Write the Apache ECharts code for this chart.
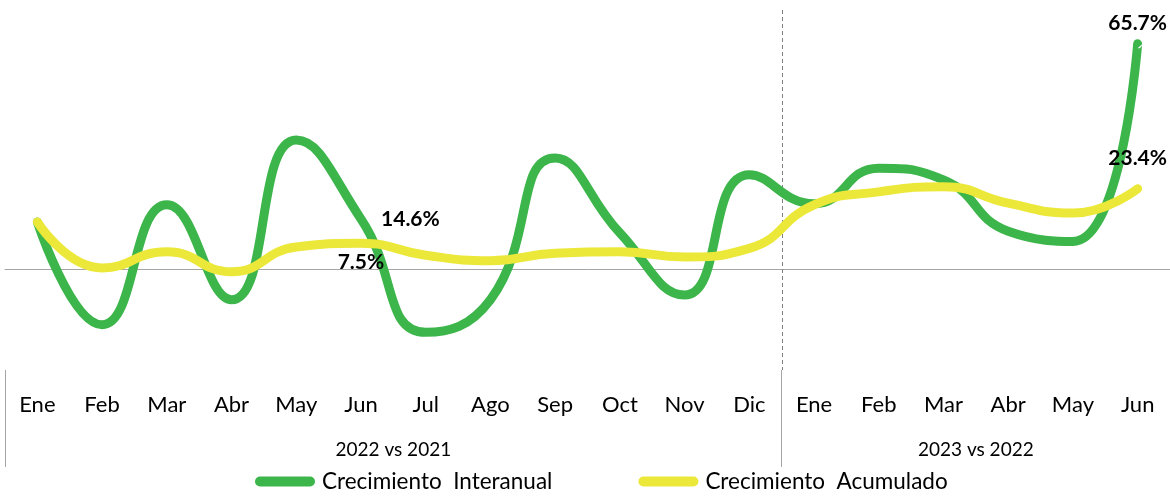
<!DOCTYPE html>
<html>
<head>
<meta charset="utf-8">
<script src="https://cdn.jsdelivr.net/npm/echarts@6/dist/echarts.min.js"></script>
<style>
  html, body { margin: 0; padding: 0; background: #fff; }
  #chart { width: 1170px; height: 496px; }
</style>
</head>
<body>
<div id="chart"></div>
<script>
const categories = ["Ene", "Feb", "Mar", "Abr", "May", "Jun", "Jul", "Ago", "Sep", "Oct", "Nov", "Dic",
  "Ene", "Feb", "Mar", "Abr", "May", "Jun"];
const interanual = [13.7, -16.3, 18.7, -9.0, 37.6, 14.6, -18.5, -9.0, 32.4, 10.5, -7.6, 27.5,
  19.0, 29.4, 26.0, 11.0, 8.0, 65.7];
const acumulado = [13.7, 0.3, 5.0, -0.8, 6.4, 7.5, 4.0, 2.4, 4.6, 5.0, 3.5, 6.0,
  18.7, 22.5, 24.0, 19.2, 16.3, 23.4];
const groupLabels = ["2022 vs 2021", "2023 vs 2022"];
const groupSizes = [12, 6];

const GREEN = "#3cb54a";
const YELLOW = "#ebe83a";
const FONT = "Lato";

// indices where a group starts (used for the separator lines)
const groupStarts = groupSizes.map((_, i) => groupSizes.slice(0, i).reduce((a, b) => a + b, 0));

// data labels only at the last month of each group (Jun)
const labelAt = {
  interanual: { 5: { position: "right", distance: 20 }, 17: { position: "top", distance: 10 } },
  acumulado: { 5: { position: "bottom", distance: 8 }, 17: { position: "top", distance: 20 } },
};

function withLabels(values, cfg) {
  return values.map((v, i) => {
    if (!cfg[i]) return v;
    return {
      value: v,
      label: {
        show: true,
        position: cfg[i].position,
        distance: cfg[i].distance,
        formatter: (p) => p.value.toFixed(1) + "%",
        fontFamily: FONT,
        fontWeight: "bold",
        fontSize: 21,
        color: "#000",
      },
    };
  });
}

const capsule = "path://M5,0 L55,0 A5,5 0 0 1 55,10 L5,10 A5,5 0 0 1 5,0 Z";

const chart = echarts.init(document.getElementById("chart"));

const option = {
  animation: false,
  grid: { left: 5, right: 0, top: 0, height: 370 },
  legend: {
    bottom: -2,
    left: 250,
    itemWidth: 60,
    itemHeight: 10,
    itemGap: 86,
    textStyle: { fontFamily: FONT, fontSize: 22.5, color: "#000", padding: [0, 0, 0, 2] },
    data: [
      { name: "Crecimiento  Interanual", icon: capsule },
      { name: "Crecimiento  Acumulado", icon: capsule },
    ],
  },
  xAxis: [
    {
      type: "category",
      data: categories,
      position: "bottom",
      boundaryGap: true,
      axisLine: { show: false, onZero: false },
      axisTick: {
        show: true,
        length: 97,
        interval: (idx) => groupStarts.includes(idx),
        lineStyle: { color: "#a6a6a6", width: 1 },
      },
      splitLine: { show: false },
      axisLabel: { margin: 24, fontFamily: FONT, fontSize: 22, color: "#000", interval: 0 },
    },
    {
      // zero line
      type: "category",
      data: categories,
      position: "top",
      axisLine: { show: true, onZero: true, lineStyle: { color: "#a6a6a6", width: 1 } },
      axisTick: { show: false },
      axisLabel: { show: false },
      splitLine: { show: false },
    },
  ],
  yAxis: {
    type: "value",
    min: -29.5,
    max: 78.5,
    show: false,
  },
  series: [
    {
      name: "Crecimiento  Interanual",
      type: "line",
      data: withLabels(interanual, labelAt.interanual),
      smooth: 0.5,
      clip: false,
      showSymbol: true,
      symbol: "circle",
      symbolSize: 0.1,
      color: GREEN,
      itemStyle: { color: GREEN, borderColor: GREEN, borderWidth: 0 },
      lineStyle: { color: GREEN, width: 9, cap: "round", join: "round" },
      z: 2,
    },
    {
      name: "Crecimiento  Acumulado",
      type: "line",
      data: withLabels(acumulado, labelAt.acumulado),
      smooth: 0.5,
      clip: false,
      showSymbol: true,
      symbol: "circle",
      symbolSize: 0.1,
      color: YELLOW,
      itemStyle: { color: YELLOW, borderColor: YELLOW, borderWidth: 0 },
      lineStyle: { color: YELLOW, width: 9, cap: "round", join: "round" },
      z: 3,
    },
  ],
};

chart.setOption(option);

// group captions and dashed separators, positioned through the category scale
const px = (i) => chart.convertToPixel({ xAxisIndex: 0 }, i);
const graphics = [];
groupLabels.forEach((text, g) => {
  const first = groupStarts[g];
  const last = first + groupSizes[g] - 1;
  graphics.push({
    type: "text",
    x: (px(first) + px(last)) / 2,
    y: 450,
    style: { text, fontFamily: FONT, fontSize: 19, fill: "#000", align: "center", verticalAlign: "middle" },
  });
  if (first > 0) {
    const xb = Math.round((px(first - 1) + px(first)) / 2) + 0.5;
    graphics.push({
      type: "line",
      shape: { x1: xb, y1: 10, x2: xb, y2: 370 },
      style: { stroke: "#7f7f7f", lineWidth: 1, lineDash: [4, 3] },
      z: 1,
    });
  }
});
chart.setOption({ graphic: graphics });
</script>
</body>
</html>
